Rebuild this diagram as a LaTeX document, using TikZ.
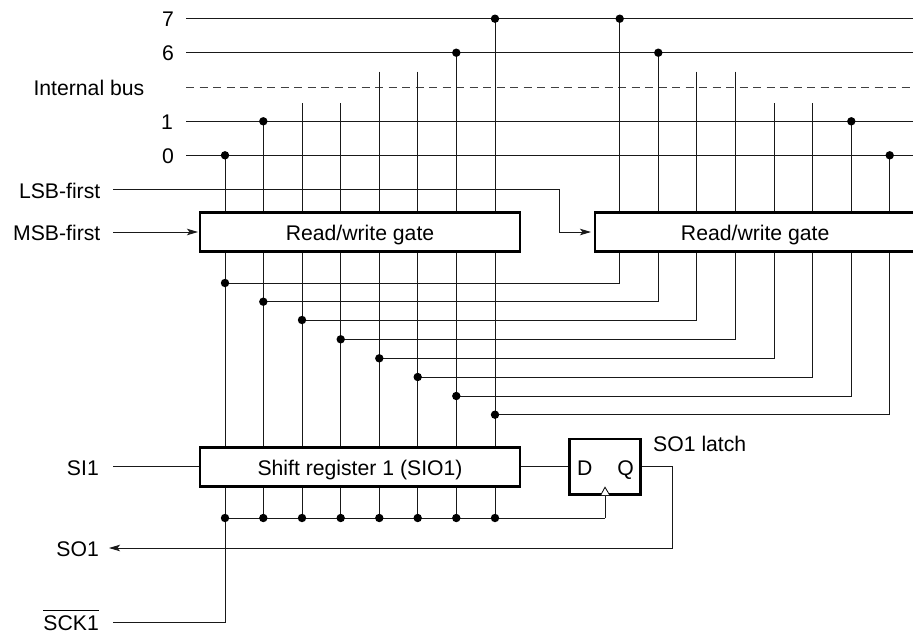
\documentclass[tikz,border=0pt]{standalone}
\usepackage{fontspec}
\setmainfont{Liberation Sans}
\usetikzlibrary{arrows.meta}
\begin{document}
\begin{tikzpicture}[x=1pt,y=-1pt,
  wire/.style={line width=0.9pt,black!90},
  arrowwire/.style={wire,-{Stealth[length=11pt,width=6.5pt,inset=2.5pt]}},
  busdash/.style={line width=0.9pt,black!75,dash pattern=on 8pt off 5.5pt},
  blockbox/.style={draw=black,fill=white,line width=2.6pt,inner sep=0pt,minimum height=38.5pt,text height=18pt,text depth=2pt,font=\fontsize{21.2}{24}\selectfont},
  latchbox/.style={draw=black,fill=white,line width=2.6pt,inner sep=0pt,minimum width=71pt,minimum height=55.5pt},
  lab/.style={inner sep=0pt,font=\fontsize{21.2}{24}\selectfont},
  rlab/.style={lab,anchor=base east},
  llab/.style={lab,anchor=base west},
  junction/.style={circle,fill=black,draw=none,minimum size=8.4pt,inner sep=0pt},
  clocktri/.style={draw=black,line width=0.8pt,fill=white,line join=miter}]
\useasboundingbox (0,0) rectangle (913,633);

% bus ends
\foreach \n/\y in {7/18.7,6/52.7,1/121.3,0/155.3}{
  \coordinate (busL\n) at (186,\y);
  \coordinate (busR\n) at (913,\y);
  \draw[wire] (busL\n) -- (busR\n);
}
\coordinate (busLd) at (186,87);
\coordinate (busRd) at (913,87);
\draw[busdash] (busLd) -- (busRd);

% left bank: i / x / top
\foreach \i/\x/\t in {a/225/155.3,b/263.3/121.3,c/302/103.3,d/340.7/103.3,e/379.3/71.7,f/417.7/71.7,g/456.3/52.7,h/495/18.7}{
  \coordinate (top\i) at (\x,\t);
  \coordinate (bot\i) at (\x,518);
  \draw[wire] (top\i) -- (bot\i);
}
% right bank: i / x / top / tap y
\foreach \i/\x/\t/\y in {a/619.7/18.7/283,b/658.3/52.7/301.7,c/696.7/71.7/320,d/735.3/71.7/339.3,e/774/103.3/358.3,f/812.3/103.3/377,g/851.3/121.3/396,h/889.7/155.3/414.7}{
  \coordinate (rtop\i) at (\x,\t);
  \coordinate (rbot\i) at (\x,\y);
  \coordinate (tap\i) at (top\i |- rbot\i);
  \draw[wire] (rtop\i) -- (rbot\i) -- (tap\i);
  \node[junction] at (tap\i) {};
}

% clock rail, SCK1
\coordinate (sckend) at (113,622.8);
\coordinate (ckcorner) at (605,518);
\draw[wire] (bota) -- (topa |- sckend) -- (sckend);
\draw[wire] (bota) -- (ckcorner);

% blocks
\node[blockbox,minimum width=320pt] (gateL) at (360,232) {Read/write gate};
\node[blockbox,minimum width=320.5pt] (gateR) at (755.2,232) {Read/write gate};
\node[blockbox,minimum width=320pt] (shift) at (360,467) {Shift register 1 (SIO1)};
\node[latchbox] (latch) at (605,466.8) {};

% text inside the latch
\node[llab] at (577,475) {D};
\node[rlab] at (634,475) {Q};

% clock triangle
\coordinate (ckpin) at (605,495);
\draw[wire] (ckcorner) -- (ckpin);
\draw[clocktri] (600.8,495) -- (605,487.2) -- (609.6,495);

% data connectors
\coordinate (si) at (113,466.8);
\draw[wire] (si) -- (shift.west |- si);
\draw[wire] (shift.east |- latch.west) -- (latch.west);
\coordinate (qcorner) at (672.5,466.8);
\coordinate (socorner) at (672.5,548);
\coordinate (sotip) at (109,548);
\draw[arrowwire] (latch.east) -- (qcorner) -- (socorner) -- (sotip);

% LSB / MSB
\coordinate (lsb) at (113,189.5);
\coordinate (lsbc1) at (559.7,189.5);
\coordinate (lsbc2) at (559.7,232);
\coordinate (lsbtip) at (591,232);
\coordinate (msb) at (113,232);
\coordinate (msbtip) at (198,232);
\draw[arrowwire] (lsb) -- (lsbc1) -- (lsbc2) -- (lsbtip);
\draw[arrowwire] (msb) -- (msbtip);

% junctions on the bus and clock rail
\foreach \p in {topa,topb,topg,toph,rtopa,rtopb,rtopg,rtoph}{\node[junction] at (\p) {};}
\foreach \p in {bota,botb,botc,botd,bote,botf,botg,both}{\node[junction] at (\p) {};}

% labels
\node[rlab] at (174,26) {7};
\node[rlab] at (174,60.5) {6};
\node[rlab] at (144.5,95) {Internal bus};
\node[rlab] at (173,129) {1};
\node[rlab] at (174,163) {0};
\node[rlab] at (100.5,198) {LSB-first};
\node[rlab] at (100.5,240) {MSB-first};
\node[rlab] at (99,475) {SI1};
\node[rlab] at (99,556) {SO1};
\node[rlab] at (99,630.7) {\vbox{\hrule height 1.1pt \kern 5pt \hbox{SCK1}}};
\node[llab] at (653,451) {SO1 latch};
\end{tikzpicture}
\end{document}
